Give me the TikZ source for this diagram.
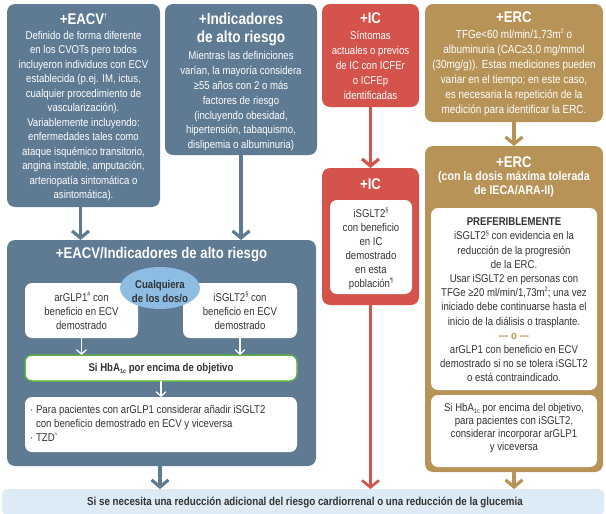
\documentclass[tikz,border=0pt]{standalone}
\usepackage{fontspec}
\setmainfont{Liberation Sans}[FakeStretch=0.85]
\usetikzlibrary{arrows.meta,shapes.geometric}
\definecolor{cblue}{HTML}{5F7B93}
\definecolor{cred}{HTML}{D4534B}
\definecolor{ctan}{HTML}{B79357}
\definecolor{cbar}{HTML}{DCEBF6}
\definecolor{cell}{HTML}{8DBDE2}
\definecolor{cgreen}{HTML}{5DB045}
\definecolor{ctext}{HTML}{333333}
\newcommand\supmark[1]{\raisebox{0.42em}{\fontsize{6.5}{6.5}\selectfont #1}}
\newcommand\submark[1]{\raisebox{-0.15em}{\fontsize{6.5}{6.5}\selectfont #1}}
\begin{document}
\begin{tikzpicture}[x=1pt,y=-1pt,
  panel/.style={rectangle, rounded corners=8pt, inner sep=0pt, outer sep=0pt},
  wbox/.style={panel, fill=white, rounded corners=7pt},
  ttl/.style={text=white, font=\fontsize{15.5}{18.5}\selectfont\bfseries, align=center, inner sep=0pt},
  subttl/.style={text=white, font=\fontsize{12.5}{13.5}\selectfont\bfseries, align=center, inner sep=0pt},
  bodyw/.style={text=white, font=\fontsize{11.3}{14.8}\selectfont, align=center, inner sep=0pt},
  bodyd/.style={text=ctext, font=\fontsize{11.3}{14}\selectfont, align=center, inner sep=0pt},
  bigarrow/.style={line width=3.2pt, -{Straight Barb[length=7pt,width=17pt]}},
  smallarrow/.style={draw=white, line width=1.2pt, -{Straight Barb[length=4.5pt,width=10pt]}}
]
\useasboundingbox (0,0) rectangle (606,514);

% ---------- top row ----------
\node[panel, fill=cblue, minimum width=153pt, minimum height=203pt] (eacv) at (83.5,105.5) {};
\node[ttl] (eacvt) at (83.5,19) {+EACV\supmark{†}};
\node[bodyw, font=\fontsize{11.3}{14.5}\selectfont, anchor=north] (eacvb) at (83.5,31) {Definido de forma diferente\\en los CVOTs pero todos\\incluyeron individuos con ECV\\establecida (p.ej. IM, ictus,\\cualquier procedimiento de\\vascularización).\\Variablemente incluyendo:\\enfermedades tales como\\ataque isquémico transitorio,\\angina instable, amputación,\\arteriopatía sintomática o\\asintomática).};

\node[panel, fill=cblue, minimum width=152pt, minimum height=151pt] (ind) at (241,79.5) {};
\node[ttl, font=\fontsize{16}{18.5}\selectfont\bfseries] (indt) at (241,29.5) {+Indicadores\\de alto riesgo};
\node[bodyw, anchor=north] (indb) at (241,51.5) {Mientras las definiciones\\varían, la mayoría considera\\≥55 años con 2 o más\\factores de riesgo\\(incluyendo obesidad,\\hipertensión, tabaquismo,\\dislipemia o albuminuria)};

\node[panel, fill=cred, minimum width=97pt, minimum height=103pt] (ict) at (370.5,55.5) {};
\node[ttl] (ictt) at (370.5,18) {+IC};
\node[bodyw, font=\fontsize{11.3}{15}\selectfont, anchor=north] (ictb) at (370.5,31) {Síntomas\\actuales o previos\\de IC con ICFEr\\o ICFEp\\identificadas};

\node[panel, fill=ctan, minimum width=178pt, minimum height=118pt] (erct) at (514,63) {};
\node[ttl] (erctt) at (514,17) {+ERC};
\node[bodyw, font=\fontsize{11.7}{15}\selectfont, anchor=north] (erctb) at (514,28.5) {TFGe<60 ml/min/1,73m\supmark{2} o\\albuminuria (CAC≥3,0 mg/mmol\\(30mg/g)). Estas mediciones pueden\\variar en el tiempo; en este caso,\\es necesaria la repetición de la\\medición para identificar la ERC.};

% ---------- big blue panel ----------
\node[panel, fill=cblue, minimum width=309pt, minimum height=226pt] (big) at (161.5,353) {};
\node[ttl] (bigt) at (161.5,255) {+EACV/Indicadores de alto riesgo};
\node[wbox, minimum width=113pt, minimum height=55pt] (glp) at (81.5,310.5) {};
\node[wbox, minimum width=114pt, minimum height=55pt] (sglt) at (240,310.5) {};
\node[bodyd] (glpt) at (81.5,311) {arGLP1\supmark{\#} con\\beneficio en ECV\\demostrado};
\node[bodyd] (sgltt) at (240,311) {iSGLT2\supmark{§} con\\beneficio en ECV\\demostrado};
\node[ellipse, fill=cell, minimum width=80pt, minimum height=42pt, inner sep=0pt] (ell) at (160,288) {};
\node[bodyd, font=\fontsize{11.3}{14}\selectfont\bfseries] (ellt) at (160,291.5) {Cualquiera\\de los dos/o};
\node[wbox, draw=cgreen, line width=1.5pt, minimum width=272pt, minimum height=26pt] (hba) at (161,368) {};
\node[bodyd, font=\fontsize{11.3}{14}\selectfont\bfseries] (hbat) at (161,368.5) {Si HbA\submark{1c} por encima de objetivo};
\node[wbox, minimum width=272pt, minimum height=55pt] (opt) at (161,424.5) {};
\node[bodyd, align=left, anchor=north west] (optt) at (30,405.5) {· Para pacientes con arGLP1 considerar añadir iSGLT2\\\phantom{· }con beneficio demostrado en ECV y viceversa\\· TZD\supmark{\textasciicircum}};

\draw[smallarrow] (glp.south) -- (hba.north -| glp.south);
\draw[smallarrow] (sglt.south) -- (hba.north -| sglt.south);
\draw[smallarrow] (hba.south) -- (opt.north);

% ---------- red lower ----------
\node[panel, fill=cred, minimum width=97pt, minimum height=137pt] (icl) at (370.5,236.5) {};
\node[ttl] (iclt) at (370.5,184) {+IC};
\node[wbox, minimum width=82pt, minimum height=94pt] (iclw) at (371,247) {};
\node[bodyd] (iclb) at (371,249) {iSGLT2\supmark{§}\\con beneficio\\en IC\\demostrado\\en esta\\población\supmark{¶}};

% ---------- tan lower ----------
\node[panel, fill=ctan, minimum width=178pt, minimum height=326pt] (ercl) at (514,309) {};
\node[ttl] (erclt) at (514,162) {+ERC};
\node[subttl] (ercls) at (514,184) {(con la dosis máxima tolerada\\de IECA/ARA-II)};
\node[wbox, minimum width=166pt, minimum height=182pt] (ercw1) at (514,299) {};
\node[bodyd, font=\fontsize{11.3}{14.2}\selectfont] (ercb1) at (514,300) {{\bfseries PREFERIBLEMENTE}\\iSGLT2\supmark{§} con evidencia en la\\reducción de la progresión\\de la ERC.\\Usar iSGLT2 en personas con\\TFGe ≥20 ml/min/1,73m\supmark{2}; una vez\\iniciado debe continuarse hasta el\\inicio de la diálisis o trasplante.\\{\color{ctan}\bfseries -{}-{}- o -{}-{}-}\\arGLP1 con beneficio en ECV\\demostrado si no se tolera iSGLT2\\o está contraindicado.};
\node[wbox, minimum width=166pt, minimum height=72pt] (ercw2) at (514,431) {};
\node[bodyd, font=\fontsize{11.3}{13}\selectfont] (ercb2) at (514,428.5) {Si HbA\submark{1c} por encima del objetivo,\\para pacientes con iSGLT2,\\considerar incorporar arGLP1\\y viceversa};

% ---------- bottom bar ----------
\node[panel, fill=cbar, rounded corners=5pt, minimum width=602pt, minimum height=26pt] (bar) at (303,502) {};
\node[bodyd, font=\fontsize{11.5}{13}\selectfont\bfseries] (bart) at (305,502) {Si se necesita una reducción adicional del riesgo cardiorrenal o una reducción de la glucemia};

% ---------- connectors ----------
\draw[bigarrow, draw=cblue] ([xshift=-3pt]eacv.south) -- ([xshift=-3pt]big.north -| eacv.south);
\draw[bigarrow, draw=cblue] (ind.south) -- (big.north -| ind.south);
\draw[bigarrow, draw=cred] (ict.south) -- (icl.north);
\draw[bigarrow, draw=ctan] (erct.south) -- (ercl.north);
\draw[bigarrow, draw=cblue] ([xshift=-1.5pt]big.south) -- ([xshift=-1.5pt]bar.north -| big.south);
\draw[bigarrow, draw=cred, line width=2.6pt] (icl.south) -- (bar.north -| icl.south);
\draw[bigarrow, draw=ctan] (ercl.south) -- (bar.north -| ercl.south);
\end{tikzpicture}
\end{document}
